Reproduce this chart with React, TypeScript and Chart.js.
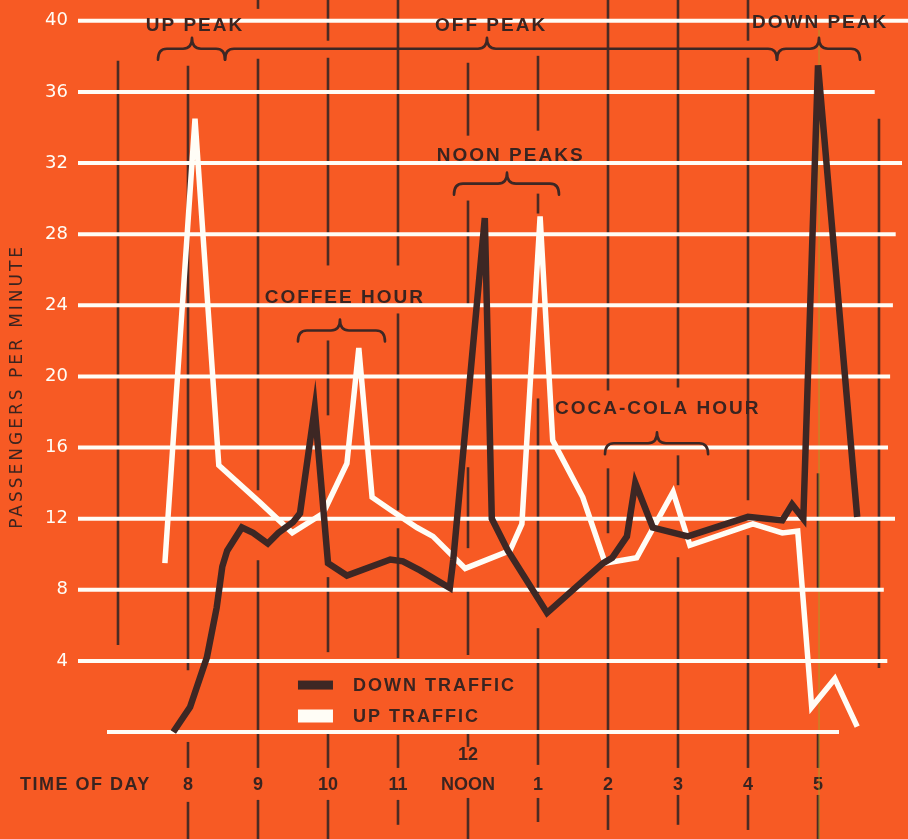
import React, { useEffect, useRef } from 'react';
import { Chart, registerables } from 'chart.js';
Chart.register(...registerables);

// ---------- data ----------
const hourTicks = [8, 9, 10, 11, 12, 13, 14, 15, 16, 17];
const hourLabels = ['8', '9', '10', '11', 'NOON', '1', '2', '3', '4', '5'];
const passengerTicks = [4, 8, 12, 16, 20, 24, 28, 32, 36, 40];

const downTime = [7.79, 8.03, 8.27, 8.41, 8.49, 8.56, 8.77, 8.93, 9.14, 9.29, 9.5, 9.6, 9.81, 10.0, 10.27, 10.89, 11.07, 11.31, 11.74, 11.79, 12.24, 12.34, 12.57, 13.13, 13.93, 14.06, 14.27, 14.39, 14.64, 15.14, 16.0, 16.49, 16.63, 16.79, 17.0, 17.56];
const downValues = [0, 1.4, 4.2, 7.0, 9.3, 10.2, 11.5, 11.2, 10.6, 11.2, 11.8, 12.3, 18.2, 9.5, 8.8, 9.7, 9.6, 9.1, 8.1, 9.7, 28.9, 12.0, 10.2, 6.7, 9.5, 9.8, 11.0, 14.0, 11.5, 11.0, 12.1, 11.9, 12.8, 12.0, 37.5, 12.1];

const upTime = [7.67, 8.1, 8.44, 9.03, 9.49, 9.93, 10.27, 10.44, 10.63, 10.89, 11.27, 11.5, 11.96, 12.6, 12.77, 13.03, 13.21, 13.64, 13.96, 14.41, 14.93, 15.17, 16.07, 16.49, 16.71, 16.91, 17.24, 17.56];
const upValues = [9.5, 34.5, 15.0, 12.9, 11.2, 12.3, 15.1, 21.6, 13.2, 12.5, 11.5, 11.0, 9.2, 10.2, 11.7, 29.0, 16.4, 13.2, 9.5, 9.8, 13.5, 10.5, 11.7, 11.2, 11.3, 1.4, 3.0, 0.3];

const seriesNames = ['DOWN TRAFFIC', 'UP TRAFFIC'];
const yTitle = 'PASSENGERS PER MINUTE';
const xTitle = 'TIME OF DAY';

const periodLabels = ['UP PEAK', 'OFF PEAK', 'DOWN PEAK', 'NOON PEAKS', 'COFFEE HOUR', 'COCA-COLA HOUR'];

// ---------- styling / decoration (axis units) ----------
const BG = '#F75A24';
const DARK = '#3D2724';
const GRID_DARK = '#4A2B24';
const TEXT = '#3A2420';
const WHITE = '#FFFDF6';
const SANS = '"Liberation Sans", Arial, sans-serif';

const X_MIN = 6.4286;
const X_MAX = 18.2857;

// white horizontal rules: [value, fromHour, toHour]
const hRules: [number, number, number][] = [
  [40, 6.4286, 18.3], [36, 6.4286, 17.81], [32, 6.4286, 18.2], [28, 6.4286, 18.11],
  [24, 6.4286, 18.07], [20, 6.4286, 18.03], [16, 6.4286, 18.0], [12, 6.4286, 18.1],
  [8, 6.4286, 17.94], [4, 6.4286, 17.99], [0, 6.843, 17.3],
];

// broken dark hour rules: [hour, [[top,bottom],...]] in passenger units
const vRules: [number, [number, number][]][] = [
  [7, [[37.75, 4.89]]],
  [8, [[37.47, 3.48], [-0.56, -2.02], [-3.93, -6.2]]],
  [9, [[41.2, 40.67], [37.87, 13.6], [9.66, -2.02], [-3.82, -6.2]]],
  [10, [[41.2, 38.88], [37.92, 26.24], [22.02, 17.81], [8.71, 4.49], [0.11, -2.02], [-3.82, -6.2]]],
  [11, [[41.2, 26.24], [23.54, 12.47], [11.46, 4.16], [-0.17, -2.02], [-3.82, -5.22]]],
  [12, [[37.64, 33.54], [29.89, 23.99], [14.89, 10.34], [7.98, 4.33], [0, -0.84], [-3.71, -6.2]]],
  [13, [[38.03, 33.82], [30.28, 29.16], [18.76, 7.81], [5.84, -1.85], [-3.71, -5.06]]],
  [14, [[41.2, 19.21], [14.83, 11.18], [8.71, -2.02], [-3.54, -5.51]]],
  [15, [[41.2, 19.38], [15.56, 13.88], [9.83, -2.02], [-3.54, -5.22]]],
  [16, [[41.2, 38.88], [37.92, 13.03], [11.07, -2.02], [-3.54, -5.51]]],
  [17, [[14.55, 7.98], [0.11, -2.02], [-3.54, -6.2]]],
  [17.871, [[34.49, 3.6]]],
];

// braces: [from, tip, to, level]
const braces: [number, number, number, number][] = [
  [7.571, 8.057, 8.529, 38.43],
  [8.529, 12.271, 16.414, 38.43],
  [16.414, 17.014, 17.6, 38.43],
  [11.8, 12.557, 13.3, 30.84],
  [9.571, 10.171, 10.814, 22.58],
  [13.957, 14.7, 15.43, 16.24],
];
// label anchors: [hour, value]
const labelPos: [number, number][] = [
  [8.1, 39.72], [12.33, 39.72], [17.03, 39.89], [12.61, 32.42], [10.24, 24.44], [14.71, 18.2],
];

const decorPlugin = {
  id: 'decor',
  beforeDatasetsDraw(chart: any) {
    const { ctx } = chart;
    const x = chart.scales.x;
    const y = chart.scales.y;
    ctx.save();

    // dark broken hour rules
    ctx.strokeStyle = GRID_DARK;
    ctx.lineWidth = 2.6;
    ctx.lineCap = 'butt';
    for (const [h, segs] of vRules) {
      const px = x.getPixelForValue(h);
      for (const [a, b] of segs) {
        ctx.beginPath();
        ctx.moveTo(px, y.getPixelForValue(a));
        ctx.lineTo(px, y.getPixelForValue(b));
        ctx.stroke();
      }
    }
    // faint misregistered yellow line at 5 o'clock
    ctx.strokeStyle = 'rgba(165,160,40,0.55)';
    ctx.lineWidth = 1.6;
    ctx.beginPath();
    ctx.moveTo(x.getPixelForValue(17.015), y.getPixelForValue(39.5));
    ctx.lineTo(x.getPixelForValue(17.015), y.getPixelForValue(-6.2));
    ctx.stroke();

    // white horizontal rules
    ctx.strokeStyle = WHITE;
    ctx.lineWidth = 4;
    for (const [v, a, b] of hRules) {
      const py = y.getPixelForValue(v);
      ctx.beginPath();
      ctx.moveTo(x.getPixelForValue(a), py);
      ctx.lineTo(x.getPixelForValue(b), py);
      ctx.stroke();
    }

    // braces
    ctx.strokeStyle = DARK;
    ctx.lineWidth = 2.6;
    ctx.lineJoin = 'round';
    ctx.lineCap = 'round';
    const d = 11;
    const r = 9;
    for (const [f, t, e, lv] of braces) {
      const x1 = x.getPixelForValue(f);
      const xt = x.getPixelForValue(t);
      const x2 = x.getPixelForValue(e);
      const py = y.getPixelForValue(lv);
      ctx.beginPath();
      ctx.moveTo(x1, py + d);
      ctx.quadraticCurveTo(x1, py, x1 + r, py);
      ctx.lineTo(xt - r, py);
      ctx.quadraticCurveTo(xt, py, xt, py - d);
      ctx.quadraticCurveTo(xt, py, xt + r, py);
      ctx.lineTo(x2 - r, py);
      ctx.quadraticCurveTo(x2, py, x2, py + d);
      ctx.stroke();
    }

    // period labels
    ctx.fillStyle = TEXT;
    ctx.font = `bold 19px ${SANS}`;
    ctx.letterSpacing = '2px';
    ctx.textAlign = 'center';
    ctx.textBaseline = 'middle';
    periodLabels.forEach((txt, i) => {
      const [h, v] = labelPos[i];
      ctx.fillText(txt, x.getPixelForValue(h), y.getPixelForValue(v));
    });

    // legend
    const ds = chart.data.datasets;
    const lx = x.getPixelForValue(9.571);
    const tx = x.getPixelForValue(10.357);
    const rows = [2.64, 0.9];
    ctx.textAlign = 'left';
    ctx.font = `bold 18px ${SANS}`;
    ctx.letterSpacing = '2px';
    ds.forEach((dset: any, i: number) => {
      const py = y.getPixelForValue(rows[i]);
      ctx.fillStyle = dset.borderColor;
      const hgt = i === 0 ? 9 : 13;
      ctx.fillRect(lx, py - hgt / 2, 35, hgt);
      ctx.fillStyle = TEXT;
      ctx.fillText(dset.label, tx, py + 1);
    });

    // axis titles
    ctx.font = `bold 18px ${SANS}`;
    ctx.letterSpacing = '1.5px';
    ctx.textAlign = 'left';
    ctx.fillText(xTitle, x.getPixelForValue(5.6), y.getPixelForValue(-2.98));

    ctx.save();
    ctx.translate(x.getPixelForValue(5.571), y.getPixelForValue(19.44));
    ctx.rotate(-Math.PI / 2);
    ctx.textAlign = 'center';
    ctx.font = '17px "DejaVu Sans"';
    ctx.letterSpacing = '3px';
    ctx.fillText(yTitle, 0, 0);
    ctx.restore();

    ctx.restore();
  },
};

export default function App() {
  const ref = useRef<HTMLCanvasElement | null>(null);
  useEffect(() => {
    if (!ref.current) return;
    const chart = new Chart(ref.current, {
      type: 'line',
      data: {
        datasets: [
          {
            label: seriesNames[0],
            data: downTime.map((t, i) => ({ x: t, y: downValues[i] })),
            borderColor: DARK,
            backgroundColor: DARK,
            borderWidth: 6.5,
            pointRadius: 0,
            tension: 0,
            borderJoinStyle: 'miter',
            clip: false,
            order: 0,
          },
          {
            label: seriesNames[1],
            data: upTime.map((t, i) => ({ x: t, y: upValues[i] })),
            borderColor: WHITE,
            backgroundColor: WHITE,
            borderWidth: 5.5,
            pointRadius: 0,
            tension: 0,
            borderJoinStyle: 'miter',
            clip: false,
            order: 1,
          },
        ],
      },
      options: {
        animation: false,
        responsive: false,
        devicePixelRatio: 1,
        events: [],
        layout: { padding: { top: 20, left: 0, right: 0, bottom: 0 } },
        plugins: { legend: { display: false }, tooltip: { enabled: false } },
        scales: {
          x: {
            type: 'linear',
            min: X_MIN,
            max: X_MAX,
            grid: { display: false, drawTicks: false },
            border: { display: false },
            afterBuildTicks: (s: any) => { s.ticks = hourTicks.map((v) => ({ value: v })); },
            afterFit: (s: any) => { s.height = 107; },
            ticks: {
              color: TEXT,
              padding: 8,
              maxRotation: 0,
              autoSkip: false,
              font: { family: SANS, size: 18, weight: 'bold', lineHeight: 1.667 },
              callback: (v: any) => {
                const i = hourTicks.indexOf(Number(v));
                if (i < 0) return '';
                return hourTicks[i] === 12 ? ['12', hourLabels[i]] : ['', hourLabels[i]];
              },
            },
          },
          y: {
            type: 'linear',
            min: 0,
            max: 40,
            grid: { display: false, drawTicks: false },
            border: { display: false },
            afterBuildTicks: (s: any) => { s.ticks = passengerTicks.map((v) => ({ value: v })); },
            afterFit: (s: any) => { s.width = 78; },
            ticks: {
              color: WHITE,
              padding: 10,
              font: { family: '"DejaVu Sans"', size: 18 },
              callback: (v: any) => String(v),
            },
          },
        },
      },
      plugins: [decorPlugin],
    } as any);
    return () => chart.destroy();
  }, []);

  return (
    <div style={{ position: 'fixed', left: 0, top: 0, width: 908, height: 839, background: BG }}>
      <canvas ref={ref} width={908} height={839} style={{ display: 'block' }} />
    </div>
  );
}
